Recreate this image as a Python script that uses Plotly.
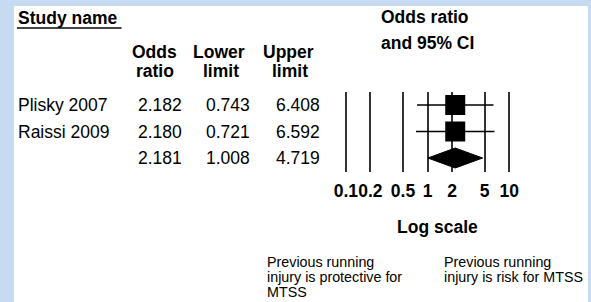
import plotly.graph_objects as go

# ---- data ----
studies = ["Plisky 2007", "Raissi 2009"]
odds_ratio = [2.182, 2.180]
lower_limit = [0.743, 0.721]
upper_limit = [6.408, 6.592]
summary_or = 2.181
summary_lower = 1.008
summary_upper = 4.719
tick_values = [0.1, 0.2, 0.5, 1, 2, 5, 10]
tick_labels = ["0.1", "0.2", "0.5", "1", "2", "5", "10"]

W, H = 591, 302
FONT = "Liberation Sans, Arial, sans-serif"
BG = "#c6dbf1"
FS = 17.5

def px(x):
    return x / W

def py(y):
    return 1 - y / H

# layout geometry (pixels)
x_left_px, x_right_px = 335, 519      # plot domain
dec_px = 82.0                           # pixels per decade
pad_dec = (345 - x_left_px) / dec_px
top_px, bot_px = 92, 172
row0_px, row_step = 105, 26.5

rows = list(range(len(studies)))
sum_row = len(studies)

fig = go.Figure()

# CI lines per study
for i in rows:
    fig.add_trace(go.Scatter(
        x=[lower_limit[i], upper_limit[i]], y=[i, i], mode="lines",
        line=dict(color="black", width=1.5), hoverinfo="skip", showlegend=False,
        cliponaxis=False))

# squares
fig.add_trace(go.Scatter(
    x=odds_ratio, y=rows, mode="markers",
    marker=dict(symbol="square", size=20, color="black", line=dict(width=0)),
    showlegend=False, cliponaxis=False))

# summary diamond
dh = 10 / row_step
fig.add_trace(go.Scatter(
    x=[summary_lower, summary_or, summary_upper, summary_or, summary_lower],
    y=[sum_row, sum_row - dh, sum_row, sum_row + dh, sum_row],
    mode="lines", fill="toself", fillcolor="black",
    line=dict(color="black", width=1), showlegend=False, cliponaxis=False))

annotations = []

def ann(text, x, y, xanchor="left", size=FS, bold=False, yref="paper", yanchor="middle"):
    annotations.append(dict(
        text=f"<b>{text}</b>" if bold else text,
        x=x, y=y, xref="paper", yref=yref, xanchor=xanchor, yanchor=yanchor,
        showarrow=False, font=dict(family=FONT, size=size, color="black")))

# headers
ann("Study name", px(14), py(18), bold=True)
ann("Odds", px(153), py(52), xanchor="center", bold=True)
ann("ratio", px(154), py(71), xanchor="center", bold=True)
ann("Lower", px(218), py(52), xanchor="center", bold=True)
ann("limit", px(220), py(71), xanchor="center", bold=True)
ann("Upper", px(287), py(52), xanchor="center", bold=True)
ann("limit", px(289), py(71), xanchor="center", bold=True)
ann("Odds ratio", px(378), py(17), bold=True)
ann("and 95% CI", px(378), py(43), bold=True)

# rows
for i in rows:
    ann(studies[i], px(14), i, yref="y")
    ann(f"{odds_ratio[i]:.3f}", px(183), i, xanchor="right", yref="y")
    ann(f"{lower_limit[i]:.3f}", px(251), i, xanchor="right", yref="y")
    ann(f"{upper_limit[i]:.3f}", px(321), i, xanchor="right", yref="y")
ann(f"{summary_or:.3f}", px(183), sum_row, xanchor="right", yref="y")
ann(f"{summary_lower:.3f}", px(251), sum_row, xanchor="right", yref="y")
ann(f"{summary_upper:.3f}", px(321), sum_row, xanchor="right", yref="y")

# axis title
ann("Log scale", px(437), py(227), xanchor="center", bold=True)

# footnotes
fs = 14.3
ann("Previous running", px(264), py(262), size=fs)
ann("injury is protective for", px(264), py(277), size=fs)
ann("MTSS", px(264), py(292), size=fs)
ann("Previous running", px(441), py(262), size=fs)
ann("injury is risk for MTSS", px(441), py(277), size=fs)

shapes = [
    dict(type="rect", xref="paper", yref="paper", x0=px(12), x1=px(588), y0=-0.01, y1=py(6),
         fillcolor="white", line=dict(width=0), layer="below"),
    dict(type="line", xref="paper", yref="paper", x0=px(15), x1=px(120), y0=py(28), y1=py(28),
         line=dict(color="#444444", width=2)),
]

fig.update_layout(
    width=W, height=H, margin=dict(l=0, r=0, t=0, b=0),
    paper_bgcolor=BG, plot_bgcolor="rgba(0,0,0,0)",
    annotations=annotations, shapes=shapes,
    xaxis=dict(type="log", domain=[px(x_left_px), px(x_right_px)],
               range=[-1 - pad_dec, 1 + pad_dec],
               tickvals=tick_values, ticktext=tick_labels, tickangle=0,
               tickfont=dict(family=FONT, size=FS, color="black", weight="bold"),
               showgrid=True, gridcolor="#333333", gridwidth=2,
               zeroline=False, showline=False, ticks="", ticklabelstandoff=6),
    yaxis=dict(domain=[py(bot_px), py(top_px)],
               range=[(bot_px - row0_px) / row_step, (top_px - row0_px) / row_step],
               showgrid=False, zeroline=False, showticklabels=False, showline=False),
    showlegend=False,
)

fig.write_html(
    "out.html",
    config={"displayModeBar": False},
    post_script="document.body.style.margin='0';document.body.style.overflow='hidden';"
                "document.body.style.background='" + BG + "';",
)
